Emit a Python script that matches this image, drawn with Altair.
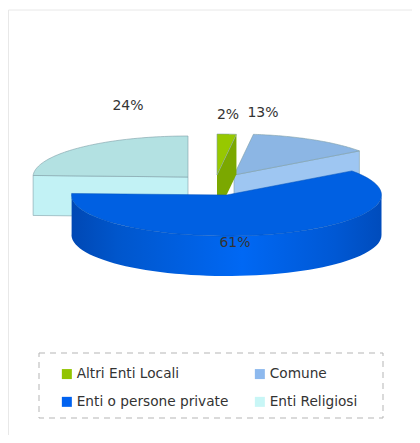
import math
import altair as alt
import pandas as pd

categories = ["Altri Enti Locali", "Comune", "Enti o persone private", "Enti Religiosi"]
shares = [2.0, 13.0, 60.6, 24.4]
labels = ["2%", "13%", "61%", "24%"]
# legend fills column by column
legend_order = ["Altri Enti Locali", "Enti o persone private", "Comune", "Enti Religiosi"]
legend_colors = ["#92C400", "#0062F0", "#8DB9EE", "#C8F6F6"]

W, H = 404, 427
RX, RY, DEPTH = 155, 41, 40
# apex of each exploded slice, in chart units (y downwards)
apex = {
    "Altri Enti Locali": (209, 167),
    "Comune": (226, 167),
    "Enti o persone private": (218.5, 187),
    "Enti Religiosi": (180, 169),
}
label_pos = [(220, 107), (255, 105), (227, 235), (120, 98)]

# start/end angles, clockwise from 12 o'clock
angles = {}
a = 90.0
for c, s in zip(categories, shares):
    angles[c] = (a, a - s * 3.6)
    a -= s * 3.6


def pt(c, t, dy=0):
    ax, ay = apex[c]
    r = math.radians(t)
    return ax + RX * math.cos(r), ay - RY * math.sin(r) + dy


def arc(c, t0, t1, dy=0, n=60):
    return [pt(c, t0 + (t1 - t0) * i / n, dy) for i in range(n + 1)]


def top(c):
    t0, t1 = angles[c]
    return [apex[c]] + arc(c, t0, t1) + [apex[c]]


def cut(c, t):
    ax, ay = apex[c]
    p = pt(c, t)
    return [(ax, ay), p, (p[0], p[1] + DEPTH), (ax, ay + DEPTH), (ax, ay)]


x_s = alt.Scale(domain=[0, W], range=[0, W], nice=False, zero=False)
y_s = alt.Scale(domain=[0, H], range=[0, H], nice=False, zero=False)
X = alt.X("x:Q", scale=x_s, axis=None)
Y = alt.Y("y:Q", scale=y_s, axis=None)


def poly(points, **mark):
    df = pd.DataFrame(points, columns=["x", "y"]).reset_index()
    return alt.Chart(df).mark_line(interpolate="linear", **mark).encode(x=X, y=Y, order="index:Q")


A, C, B, R = categories
edge = dict(stroke="#7F9FA8", strokeWidth=0.6)
none = dict(strokeWidth=0, stroke="#ffffff", strokeOpacity=0)

# page frame: only the top and left edges show
frame_df = pd.DataFrame({"x": [0.5, 0.5], "y": [2, 2], "x2": [404, 0.5], "y2": [2, 427]})
frame = alt.Chart(frame_df).mark_rule(color="#E8E8E8", strokeWidth=1).encode(
    x=X, y=Y, x2="x2:Q", y2="y2:Q"
)

box = alt.Chart(pd.DataFrame({"x": [31], "x2": [375], "y": [345], "y2": [410]})).mark_rect(
    fill="#ffffff", fillOpacity=0, stroke="#B5B5B5", strokeWidth=1, strokeDash=[6, 5]
).encode(x=X, x2="x2:Q", y=Y, y2="y2:Q")

legend_df = pd.DataFrame({
    "name": categories,
    "x": [apex[B][0]] * 4,
    "y": [apex[B][1] + 15] * 4,
})
legend_layer = alt.Chart(legend_df).mark_square(size=20, opacity=1).encode(
    x=X, y=Y,
    fill=alt.Fill("name:N",
                  scale=alt.Scale(domain=legend_order, range=legend_colors),
                  legend=alt.Legend(title=None, orient="none", legendX=52, legendY=359,
                                    columns=2, columnPadding=24, rowPadding=13,
                                    symbolType="square", symbolSize=100, symbolStrokeWidth=0,
                                    labelFont="DejaVu Sans", labelFontSize=13.7,
                                    labelColor="#333333", labelLimit=240, labelOffset=3,
                                    padding=0)),
)

t1 = angles[B][1]
front = arc(B, 0, t1) + arc(B, t1, 0, DEPTH)
side_fill = alt.Gradient(
    gradient="linear", x1=0, x2=1, y1=0, y2=0,
    stops=[alt.GradientStop(offset=0, color="#0048B4"),
           alt.GradientStop(offset=0.15, color="#0056CC"),
           alt.GradientStop(offset=0.55, color="#0068F4"),
           alt.GradientStop(offset=0.85, color="#0058D4"),
           alt.GradientStop(offset=1, color="#004CBC")],
)

layers = [
    frame,
    box,
    legend_layer,
    # Enti Religiosi
    poly(cut(R, angles[R][0]), fill="#C2F2F5", **edge),
    poly(top(R), fill="#B3E1E2", **edge),
    # Comune
    poly(cut(C, angles[C][1]), fill="#9EC6F2", **edge),
    poly(top(C), fill="#8CB6E4", **edge),
    # Altri Enti Locali
    poly(cut(A, angles[A][1]), fill="#7BA800", **none),
    poly(top(A), fill="#97C800", **edge),
    # Enti o persone private
    poly(front, fill=side_fill, **none),
    poly(top(B), fill="#0060E2", stroke="#0050B8", strokeWidth=0.5),
]

text_df = pd.DataFrame({
    "label": labels,
    "x": [p[0] for p in label_pos],
    "y": [p[1] for p in label_pos],
})
layers.append(
    alt.Chart(text_df).mark_text(font="DejaVu Sans", fontSize=14, color="#333333").encode(
        x=X, y=Y, text="label:N",
    )
)

chart = alt.layer(*layers).properties(
    width=W, height=H, padding=0,
    autosize=alt.AutoSizeParams(type="fit", contains="padding"),
).configure_view(stroke=None)

chart.save("out.html", embed_options={"renderer": "svg", "actions": False})
